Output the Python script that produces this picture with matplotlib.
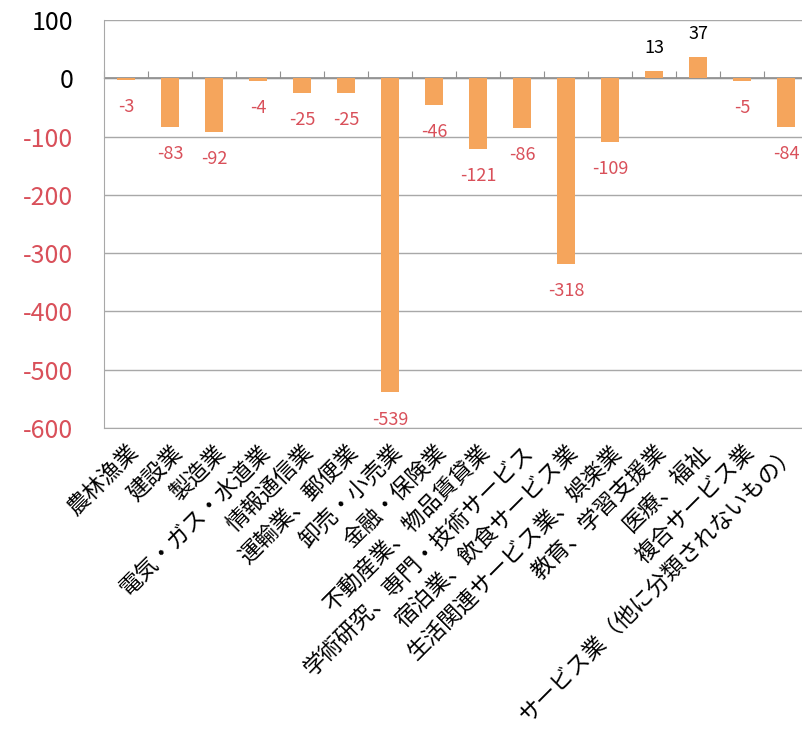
import matplotlib
matplotlib.use("Agg")
import matplotlib.pyplot as plt
import numpy as np

plt.rcParams['font.family'] = ['Noto Sans CJK JP', 'DejaVu Sans']

categories = [
    "農林漁業", "建設業", "製造業", "電気・ガス・水道業", "情報通信業",
    "運輸業、郵便業", "卸売・小売業", "金融・保険業", "不動産業、物品賃貸業",
    "学術研究、専門・技術サービス", "宿泊業、飲食サービス業",
    "生活関連サービス業、娯楽業", "教育、学習支援業", "医療、福祉",
    "複合サービス業", "サービス業（他に分類されないもの）",
]
values = [-3, -83, -92, -4, -25, -25, -539, -46, -121, -86, -318, -109, 13, 37, -5, -84]
y_ticks = [100, 0, -100, -200, -300, -400, -500, -600]

BAR = "#F5A55C"
RED = "#D9505A"
GRID = "#A8A8A8"

fig = plt.figure(figsize=(8.02, 7.29), dpi=100)
ax = fig.add_axes([0.1297, 0.4129, 0.878, 0.5597])

x = np.arange(len(categories))
ax.bar(x, values, width=0.42, color=BAR, zorder=3)

ax.set_xlim(-0.5, len(categories) - 0.5)
ax.set_ylim(-600, 100)
ax.set_yticks(y_ticks)
ax.set_yticklabels([str(v) for v in y_ticks], fontsize=18)
for lbl, v in zip(ax.get_yticklabels(), y_ticks):
    lbl.set_color("black" if v >= 0 else RED)
ax.tick_params(axis="y", length=0, pad=22)
ax.yaxis.grid(True, color=GRID, linewidth=1.0, zorder=0)

ax.set_xticks(x)
ax.set_xticklabels(categories, rotation=45, ha="right", va="top",
                   rotation_mode="anchor", fontsize=16.2)
ax.tick_params(axis="x", length=0, pad=9)

for side in ("top", "right"):
    ax.spines[side].set_visible(False)
ax.spines["left"].set_color(GRID)
ax.spines["bottom"].set_color(GRID)

# zero line acting as the category axis, with boundary tick marks
ax.axhline(0, color="#909090", linewidth=1.2, zorder=2)
sec = ax.secondary_xaxis(600 / 700)
sec.set_xticks(np.arange(len(categories) + 1) - 0.5)
sec.set_xticklabels([])
sec.tick_params(axis="x", direction="out", length=5, color="#909090")
sec.spines["bottom"].set_visible(False)

for xi, v in zip(x, values):
    if v < 0:
        ax.annotate(str(v), (xi, v), xytext=(0, -19.5), textcoords="offset points",
                    ha="center", va="center", fontsize=13, color=RED)
    else:
        ax.annotate(str(v), (xi, v), xytext=(0, 16.5), textcoords="offset points",
                    ha="center", va="center", fontsize=13, color="black")

fig.savefig("out.png", dpi=100)
